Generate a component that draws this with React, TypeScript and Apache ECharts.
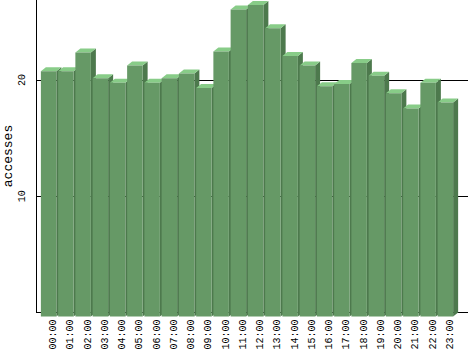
import React, { useEffect, useRef } from "react";
import * as echarts from "echarts";

const hours = [
  "00:00", "01:00", "02:00", "03:00", "04:00", "05:00", "06:00", "07:00",
  "08:00", "09:00", "10:00", "11:00", "12:00", "13:00", "14:00", "15:00",
  "16:00", "17:00", "18:00", "19:00", "20:00", "21:00", "22:00", "23:00",
];
const accesses = [
  21.1, 21.1, 22.7, 20.5, 20.1, 21.6, 20.1, 20.5,
  20.9, 19.65, 22.8, 26.4, 26.8, 24.8, 22.4, 21.6,
  19.8, 20.0, 21.8, 20.7, 19.2, 17.9, 20.1, 18.4,
];
const yTicks = [10, 20];
const yAxisName = "accesses";
const yMax = 30;

const FRONT = "#669966";
const TOP = "#88cc88";
const SIDE = "#4d794d";
const DX = 5;
const DY = 4;
const BW = 15.5;
const MONO = "Liberation Mono";

export default function App() {
  const ref = useRef<HTMLDivElement>(null);
  useEffect(() => {
    if (!ref.current) return;
    const chart = echarts.init(ref.current, undefined, { renderer: "svg" });
    const gridTop = -36.3;
    const gridBottom = 38.4;
    chart.setOption({
      animation: false,
      backgroundColor: "#ffffff",
      grid: [
        { left: 36, right: 0, top: gridTop, bottom: gridBottom, outerBoundsMode: "none", containLabel: false },
        { left: 45, width: 414, top: gridTop, bottom: gridBottom, outerBoundsMode: "none", containLabel: false },
      ],
      graphic: [
        {
          type: "text",
          x: 8.5,
          y: 156,
          rotation: Math.PI / 2,
          style: {
            text: yAxisName,
            align: "center",
            verticalAlign: "middle",
            fontFamily: MONO,
            fontSize: 13,
            fill: "#000",
          },
        },
      ],
      xAxis: [
        {
          type: "value",
          gridIndex: 0,
          show: false,
          min: 0,
          max: 1,
          axisLine: { show: false },
          splitLine: { show: false },
          axisTick: { show: false },
          axisLabel: { show: false },
        },
        {
          type: "category",
          gridIndex: 1,
          data: hours,
          axisLine: { show: false },
          axisTick: { show: false },
          splitLine: { show: false },
          axisLabel: {
            interval: 0,
            rotate: 90,
            margin: 7,
            fontFamily: MONO,
            fontSize: 10,
            color: "#000",
          },
        },
      ],
      yAxis: [
        {
          type: "value",
          gridIndex: 0,
          min: 0,
          max: yMax,
          interval: 10,
          axisLine: { show: true, lineStyle: { color: "#000", width: 1 } },
          axisTick: { show: false },
          splitLine: { show: true, lineStyle: { color: "#000", width: 1 } },
          axisLabel: {
            rotate: 90,
            margin: 9,
            fontFamily: MONO,
            fontSize: 10,
            color: "#000",
            formatter: (v: number) => (yTicks.includes(v) ? String(v) : ""),
          },
        },
        {
          type: "value",
          gridIndex: 1,
          min: 0,
          max: yMax,
          show: false,
          axisLine: { show: false },
          splitLine: { show: false },
          axisLabel: { show: false },
        },
      ],
      series: [
        {
          type: "custom",
          xAxisIndex: 1,
          yAxisIndex: 1,
          clip: false,
          data: accesses.map((v, i) => [i, v]),
          encode: { x: 0, y: 1 },
          renderItem: (params: any, api: any) => {
            const i = api.value(0);
            const v = api.value(1);
            const top = api.coord([i, v]);
            const base = api.coord([i, 0]);
            const cx = top[0] - DX;
            const x0 = cx - BW / 2;
            const x1 = cx + BW / 2;
            const yT = top[1] + DY;
            const yB = base[1] + DY;
            return {
              type: "group",
              children: [
                {
                  type: "polygon",
                  shape: { points: [[x1, yT], [x1 + DX, yT - DY], [x1 + DX, yB - DY], [x1, yB]] },
                  style: { fill: SIDE },
                },
                {
                  type: "polygon",
                  shape: { points: [[x0, yT], [x0 + DX, yT - DY], [x1 + DX, yT - DY], [x1, yT]] },
                  style: { fill: TOP },
                },
                {
                  type: "rect",
                  shape: { x: x0, y: yT, width: BW, height: yB - yT },
                  style: { fill: FRONT },
                },
              ],
            };
          },
        },
      ],
    });
    return () => chart.dispose();
  }, []);
  return (
    <div
      ref={ref}
      style={{ position: "fixed", left: 0, top: 0, width: 468, height: 351 }}
    />
  );
}
